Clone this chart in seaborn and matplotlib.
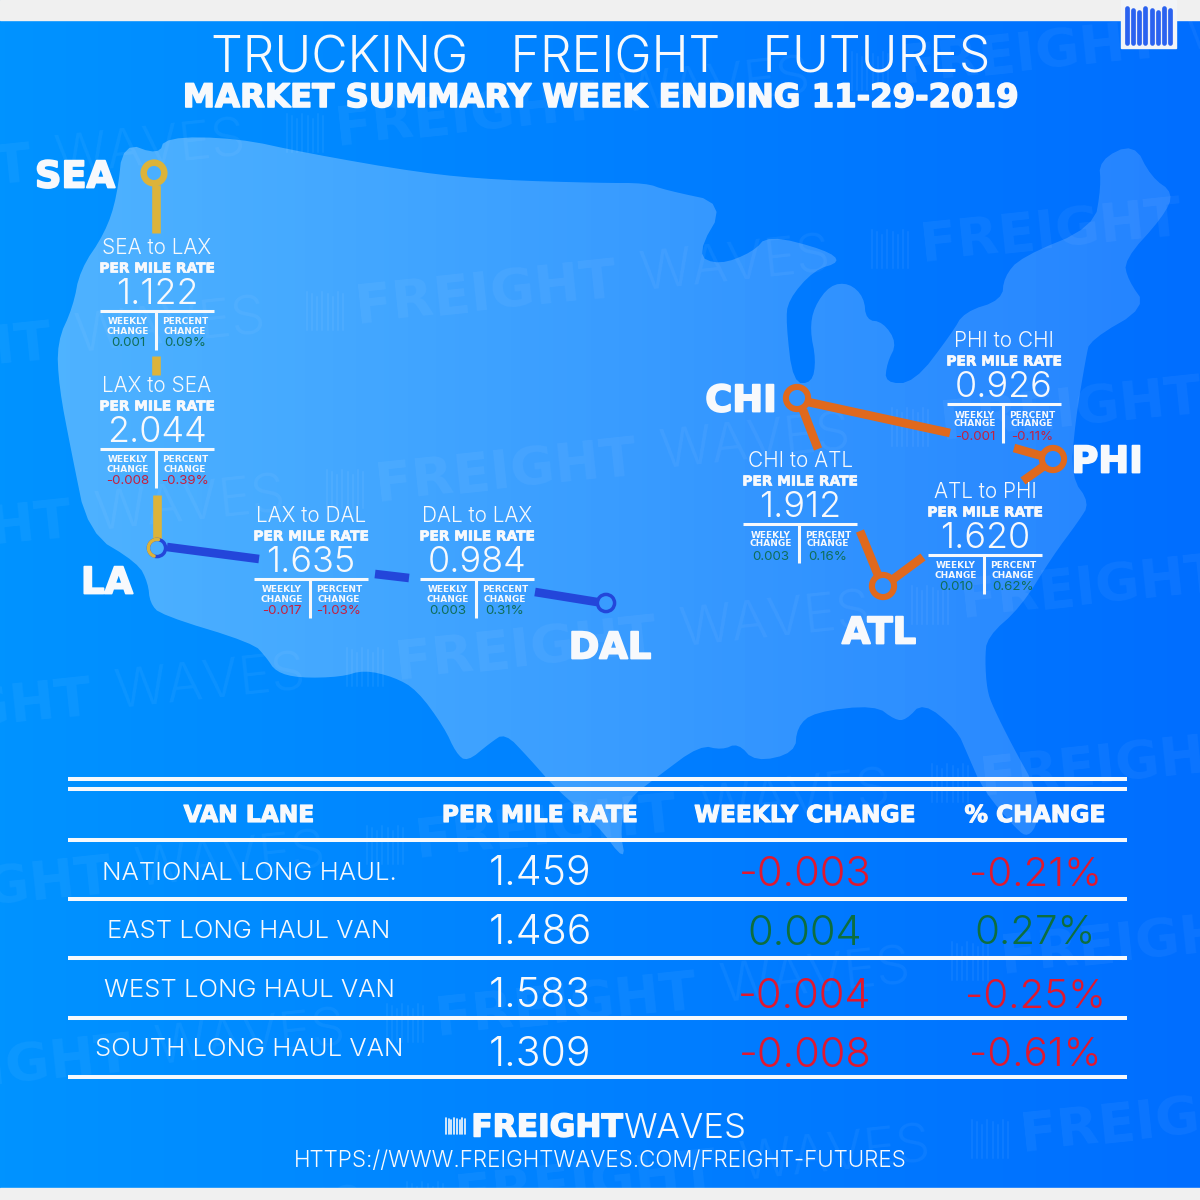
# Trucking freight futures weekly summary
import numpy as np
import pandas as pd
import matplotlib
matplotlib.use("Agg")
import matplotlib.pyplot as plt
import matplotlib.patheffects as pe
from matplotlib.patches import Polygon, Rectangle
import seaborn as sns

# lane panels
lane_titles = ["SEA to LAX", "LAX to SEA", "LAX to DAL", "DAL to LAX", "PHI to CHI", "CHI to ATL", "ATL to PHI"]
lane_rates = ["1.122", "2.044", "1.635", "0.984", "0.926", "1.912", "1.620"]
lane_weekly = ["0.001", "-0.008", "-0.017", "0.003", "-0.001", "0.003", "0.010"]
lane_percent = ["0.09%", "-0.39%", "-1.03%", "0.31%", "-0.11%", "0.16%", "0.62%"]

# summary table
van_lanes = ["NATIONAL LONG HAUL.", "EAST LONG HAUL VAN", "WEST LONG HAUL VAN", "SOUTH LONG HAUL VAN"]
van_rates = ["1.459", "1.486", "1.583", "1.309"]
van_weekly = ["-0.003", "0.004", "-0.004", "-0.008"]
van_percent = ["-0.21%", "0.27%", "-0.25%", "-0.61%"]
table_headers = ["VAN LANE", "PER MILE RATE", "WEEKLY CHANGE", "% CHANGE"]

cities = ["SEA", "LA", "DAL", "CHI", "PHI", "ATL"]

BOLD = "DejaVu Sans"
LIGHT = ["Inter", "Open Sans", "DejaVu Sans"]
WHITE = "#f7f9fc"
GOLD = "#dcb33a"
BLUE = "#2346da"
ORANGE = "#e0691d"
RED = "#e0182f"
GREEN = "#0d6e3f"

sns.set_theme(style="white")
plt.rcParams["font.family"] = ["Inter", "Open Sans", "DejaVu Sans"]

fig = plt.figure(figsize=(12, 12), dpi=100)
ax = fig.add_axes([0, 0, 1, 1])

# background
grad = np.linspace(0, 1, 256).reshape(1, -1)
cmap = matplotlib.colors.LinearSegmentedColormap.from_list("bg", ["#0093ff", "#006eff"])
ax.imshow(grad, extent=[0, 1200, 1200, 0], cmap=cmap, aspect="auto", zorder=0)
ax.add_patch(Rectangle((0, 0), 1200, 20, color="#f0f0f0", zorder=6))
ax.add_patch(Rectangle((0, 1188), 1200, 12, color="#f0f0f0", zorder=6))

# map shape
outline = [(123, 142), (159, 155), (165, 137), (237, 138), (306, 153), (421, 173), (497, 180), (600, 183),
           (646, 183), (665, 190), (726, 203), (696, 255), (719, 265), (753, 252), (768, 235), (826, 250),
           (841, 262), (814, 270), (788, 300), (786, 323), (793, 383), (812, 383), (816, 360), (810, 330),
           (814, 307), (830, 285), (849, 283), (864, 297), (866, 320), (883, 322), (897, 343), (887, 363),
           (885, 383), (914, 383), (952, 333), (964, 312), (1002, 300), (1004, 277), (1021, 257), (1094, 227),
           (1101, 187), (1099, 160), (1134, 143), (1151, 177), (1174, 193), (1163, 217), (1124, 260), (1128, 280),
           (1147, 307), (1090, 340), (1086, 357), (1075, 423), (1071, 477), (1090, 503), (1078, 522), (1052, 557),
           (1021, 607), (987, 637), (985, 660), (987, 690), (993, 707), (1013, 747), (1037, 790), (1038, 823),
           (1028, 837), (1017, 830), (983, 790), (967, 753), (957, 730), (923, 702), (906, 720), (895, 720),
           (875, 705), (814, 712), (797, 727), (795, 753), (755, 762), (738, 743), (722, 750), (700, 745),
           (657, 777), (627, 800), (620, 830), (626, 863), (596, 823), (557, 790), (528, 757), (505, 733),
           (490, 743), (467, 762), (456, 753), (444, 727), (417, 690), (394, 677), (364, 670), (341, 677),
           (299, 678), (276, 672), (266, 657), (253, 643), (161, 615), (150, 603), (148, 583), (138, 563),
           (88, 533), (71, 450), (59, 387), (57, 342), (73, 307), (80, 270), (105, 233), (117, 197)]

# round off the corners of the traced shape
shape = np.array(outline, dtype=float)
for _ in range(2):
    nxt = np.roll(shape, -1, axis=0)
    shape = np.column_stack([0.75 * shape + 0.25 * nxt, 0.25 * shape + 0.75 * nxt]).reshape(-1, 2)

us = Polygon(shape, closed=True, facecolor="none", edgecolor="none", zorder=1)
ax.add_patch(us)
shade = np.ones((1, 256, 4))
shade[..., 3] = np.linspace(0.32, 0.14, 256)
im = ax.imshow(shade, extent=[0, 1200, 1200, 0], aspect="auto", zorder=1)
im.set_clip_path(us)


def bars(x, y, w, h, color, alpha=1.0, lw=2, n=8, z=2):
    # the striped logo mark
    for i, bx in enumerate(np.linspace(x, x + w, n)):
        top = y + (i % 3) * h * 0.06
        ax.plot([bx, bx], [top, y + h], color=color, alpha=alpha, lw=lw, solid_capstyle="round", zorder=z)


# faint watermark rows
for row in range(7):
    for col in range(-1, 2):
        wx = 335 + 20 * row + 565 * col
        wy = 130 + 178 * row - 62 * col
        ax.text(wx, wy, "FREIGHT", color="white", alpha=0.05, family=BOLD, weight="bold", fontsize=39,
                rotation=6, rotation_mode="anchor", ha="left", va="center", zorder=2, clip_on=True)
        ax.text(wx + 285, wy - 31, "WAVES", color="white", alpha=0.05, family=LIGHT, weight=300, fontsize=39,
                rotation=6, rotation_mode="anchor", ha="left", va="center", zorder=2, clip_on=True)
        bars(wx - 48, wy - 16, 36, 38, "white", alpha=0.05, lw=1.5)


def route(xs, ys, color, width=6.2):
    # one leg of a lane
    seg = pd.DataFrame({"x": xs, "y": ys})
    sns.lineplot(data=seg, x="x", y="y", sort=False, estimator=None, color=color, linewidth=width,
                 solid_capstyle="butt", ax=ax, legend=False, zorder=4)


def ring(x, y, color, size, width):
    sns.scatterplot(x=[x], y=[y], s=size, facecolor="none", edgecolor=color, linewidth=width, ax=ax,
                    legend=False, zorder=5)


# west coast lane
route([156, 156], [185, 233], GOLD)
route([156, 156], [356, 375], GOLD)
route([157, 157], [495, 540], GOLD)
ring(154, 173, GOLD, 220, 4.7)
# LA to DAL
route([167, 259], [547, 559], BLUE)
route([375, 409], [574, 578], BLUE)
route([535, 597], [592, 602], BLUE)
ring(157, 548, BLUE, 153, 2.5)
ring(606, 603, BLUE, 153, 2.5)
ang = np.radians(np.arange(80, 255, 5))
ax.plot(157 + 8.6 * np.cos(ang), 548 - 8.6 * np.sin(ang), color=GOLD, lw=2.5, zorder=5)
# east triangle
route([808, 950], [402, 433], ORANGE)
route([803, 818], [410, 449], ORANGE)
route([1014, 1042], [448, 456], ORANGE)
route([1023, 1044], [481, 466], ORANGE)
route([860, 878], [531, 575], ORANGE)
route([923, 892], [557, 580], ORANGE)
ring(797, 398, ORANGE, 255, 4.4)
ring(1053, 459, ORANGE, 255, 4.4)
ring(883, 586, ORANGE, 255, 4.4)

ax.set_xlim(0, 1200)
ax.set_ylim(1200, 0)
ax.set_aspect("auto")
ax.axis("off")


def label(x, y, s, size, color=WHITE, bold=False, weight=300, z=7):
    if bold:
        t = ax.text(x, y, s, fontsize=size, color=color, family=BOLD, weight="bold",
                    ha="center", va="center_baseline", zorder=z)
        if size > 9:
            t.set_path_effects([pe.withStroke(linewidth=size * 0.05, foreground=color)])
        return t
    return ax.text(x, y, s, fontsize=size, color=color, family=LIGHT, weight=weight,
                   ha="center", va="center_baseline", zorder=z)


def panel(i, vx, ly):
    # vx is the divider, ly the rule under the rate
    cx = vx + 1
    label(cx, ly - 65, lane_titles[i], 15)
    label(cx, ly - 44, "PER MILE RATE", 9.9, bold=True)
    label(cx, ly - 20, lane_rates[i], 26)
    ax.plot([vx - 56, vx + 58], [ly, ly], color=WHITE, lw=2.2, solid_capstyle="butt", zorder=7)
    ax.plot([vx, vx], [ly, ly + 39], color=WHITE, lw=2.2, solid_capstyle="butt", zorder=7)
    label(vx - 28, ly + 10, "WEEKLY", 6.5, bold=True)
    label(vx - 28, ly + 19, "CHANGE", 6.5, bold=True)
    label(vx + 29, ly + 10, "PERCENT", 6.5, bold=True)
    label(vx + 29, ly + 19, "CHANGE", 6.5, bold=True)
    col = "#c4203f" if lane_weekly[i].startswith("-") else "#0f6e5a"
    label(vx - 28, ly + 31, lane_weekly[i], 9.6, color=col, weight=400)
    label(vx + 29, ly + 31, lane_percent[i], 9.6, color=col, weight=400)


panel_vx = [156, 156, 310, 476, 1003, 799, 984]
panel_ly = [311, 449, 579, 579, 404, 524, 555]
for i in range(len(lane_titles)):
    panel(i, panel_vx[i], panel_ly[i])

# city names
city_x = [75, 107, 610, 741, 1107, 879]
city_y = [173, 579, 644, 397, 458, 629]
for name, cx, cy in zip(cities, city_x, city_y):
    label(cx, cy, name, 26.5, bold=True)

# header
label(601, 54, "TRUCKING   FREIGHT   FUTURES", 36)
label(601, 95, "MARKET SUMMARY WEEK ENDING 11-29-2019", 23.3, bold=True)

# corner logo
ax.add_patch(Rectangle((1121, 0), 55, 48, color="#f2f4f7", zorder=7))
bars(1127, 8, 43, 35, "#2a62f0", lw=3.4, z=8)

# table
for ly in [779, 789, 840, 899, 958, 1018, 1077]:
    ax.plot([68, 1127], [ly, ly], color=WHITE, lw=2.9, solid_capstyle="butt", zorder=3)

col_x = [249, 540, 805, 1035]
for h, cx in zip(table_headers, col_x):
    label(cx, 813, h, 16.8, bold=True)

row_y = [871, 929, 988, 1047]
rate_y = [870, 929, 992, 1051]
for i in range(4):
    label(col_x[0], row_y[i], van_lanes[i], 18.5)
    label(col_x[1], rate_y[i], van_rates[i], 29.5)
    tint = RED if van_weekly[i].startswith("-") else GREEN
    label(col_x[2], rate_y[i] + 1, van_weekly[i], 30, color=tint)
    label(col_x[3], rate_y[i] + 1, van_percent[i], 29, color=tint)

# footer
bars(446, 1118, 19, 16, WHITE, lw=1.2)
label(547, 1125, "FREIGHT", 22.5, bold=True)
label(685, 1125, "WAVES", 25)
label(600, 1158, "HTTPS://WWW.FREIGHTWAVES.COM/FREIGHT-FUTURES", 16.2)

plt.savefig("out.png", dpi=100)
